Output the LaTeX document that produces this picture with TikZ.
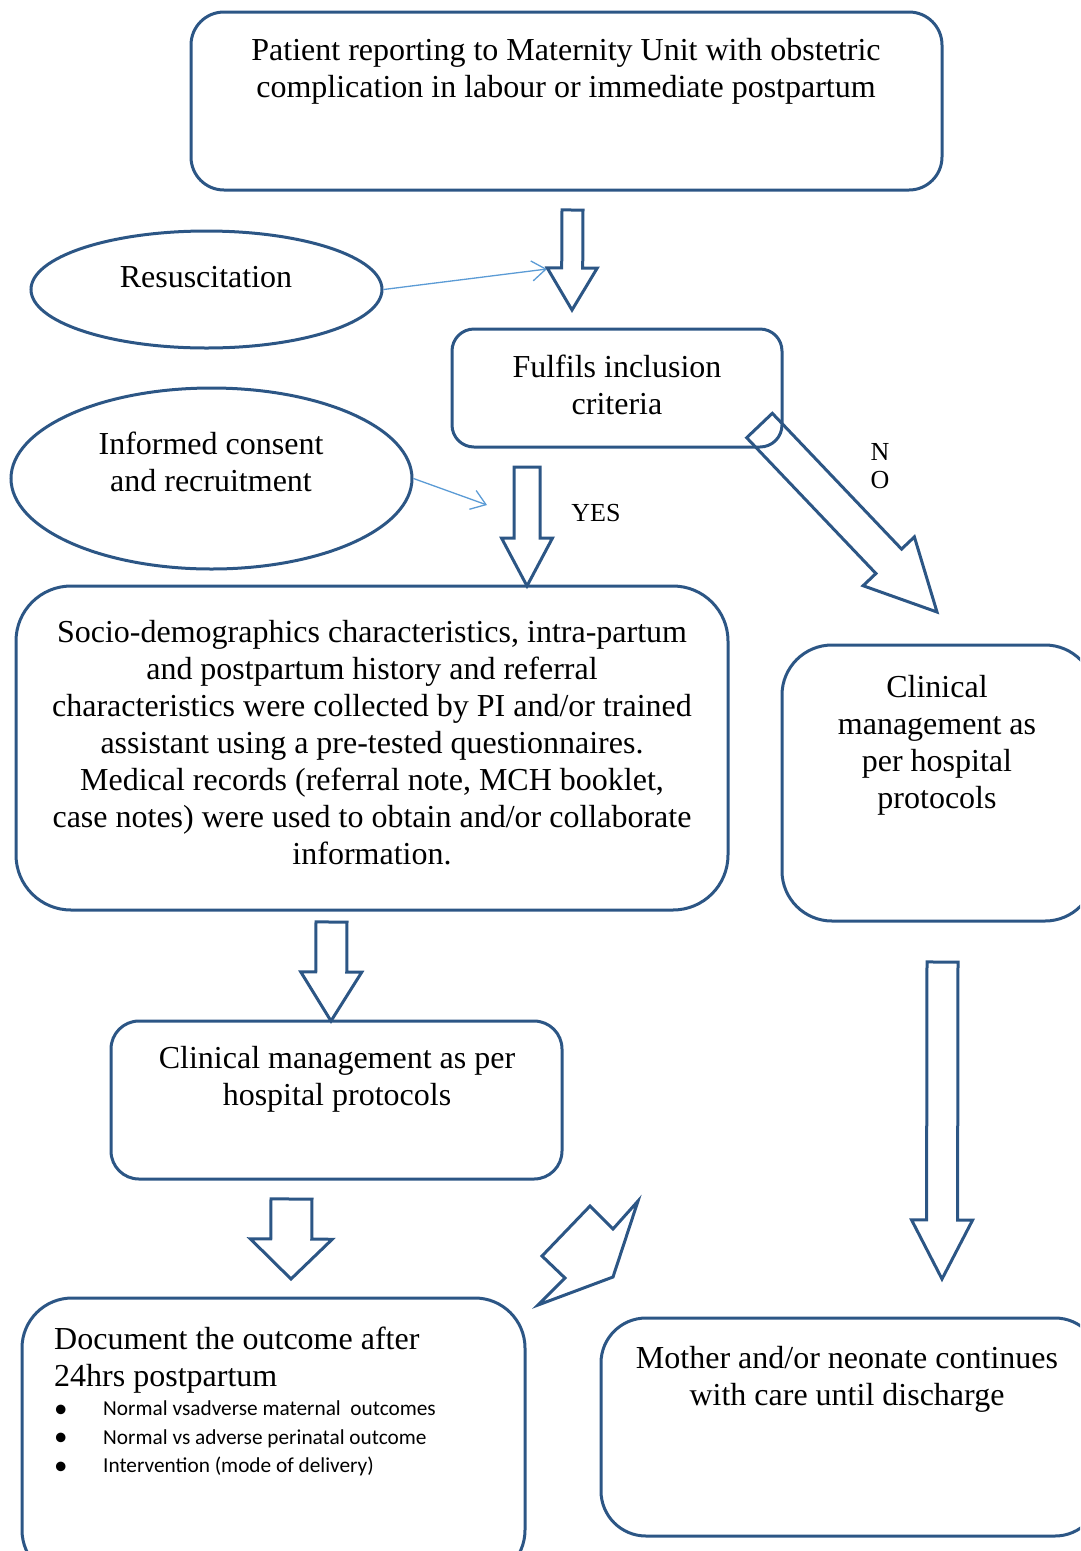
\documentclass[tikz,border=0pt]{standalone}
\usepackage{fontspec}
\setmainfont{Liberation Serif}
\newfontfamily\listfont{Carlito}
\usetikzlibrary{shapes.geometric, arrows.meta, positioning, calc}
\definecolor{boxblue}{HTML}{2C5685}
\definecolor{linkblue}{HTML}{5B9BD5}
\tikzstyle{box} = [rectangle, rounded corners=30pt, draw=boxblue, line width=3pt]
\tikzstyle{oval} = [ellipse, draw=boxblue, line width=3pt]
\tikzstyle{txt} = [inner sep=0pt, align=center, font=\fontsize{32}{37}\selectfont]
\tikzstyle{smalltxt} = [inner sep=0pt, align=center, font=\fontsize{26}{28}\selectfont]
\tikzstyle{thinarrow} = [linkblue, line width=1.3pt, -{Straight Barb[length=14pt, width=20pt]}]
\tikzstyle{blockarr} = [draw=boxblue, line width=3pt, line join=miter]
% list bullet
\newcommand{\listbullet}{\makebox[49pt][l]{\raisebox{-1.5pt}{\fontsize{27}{28}\selectfont\textbullet}}}
% block arrow: tail, tip, half shaft width, half head width, head length
\newcommand{\blockarrow}[5]{%
  \path (#1) coordinate (ba-tail) (#2) coordinate (ba-tip);
  \path ($(ba-tip)!#5!(ba-tail)$) coordinate (ba-head);
  \draw[blockarr] ($(ba-tail)!#3!90:(ba-tip)$) -- ($(ba-head)!#3!90:(ba-tip)$)
    -- ($(ba-head)!#4!90:(ba-tip)$) -- (ba-tip) -- ($(ba-head)!#4!-90:(ba-tip)$)
    -- ($(ba-head)!#3!-90:(ba-tip)$) -- ($(ba-tail)!#3!-90:(ba-tip)$) -- cycle;}

\begin{document}
\begin{tikzpicture}[x=1pt, y=-1pt]
    \useasboundingbox (0,0) rectangle (1080,1551);
    \clip (0,0) rectangle (1080,1551);

    % Boxes and ovals
    \node (patient) [box, minimum width=751pt, minimum height=178pt, rounded corners=33pt] at (566.5,101) {};
    \node (resus) [oval, minimum width=351pt, minimum height=117pt] at (206.5,289.5) {};
    \node (fulfil) [box, minimum width=330pt, minimum height=118pt, rounded corners=22pt] at (617,388) {};
    \node (consent) [oval, minimum width=401pt, minimum height=181pt] at (211.5,478.5) {};
    \node (socio) [box, minimum width=712pt, minimum height=324pt, rounded corners=55pt] at (372,748) {};
    \node (clinright) [box, minimum width=313pt, minimum height=276pt, rounded corners=50pt] at (938.5,783) {};
    \node (clin) [box, minimum width=451pt, minimum height=158pt, rounded corners=28pt] at (336.5,1100) {};
    \node (doc) [box, minimum width=503pt, minimum height=282pt, rounded corners=50pt] at (273.5,1439) {};
    \node (mother) [box, minimum width=499pt, minimum height=218pt, rounded corners=45pt] at (850.5,1427) {};

    % Texts
    \node (patienttxt) [txt] at (566,71.5) {Patient reporting to Maternity Unit with obstetric\\complication in labour or immediate postpartum};
    \node (resustxt) [txt] at (206,277) {Resuscitation};
    \node (fulfiltxt) [txt] at (617,384.5) {Fulfils inclusion\\criteria};
    \node (consenttxt) [txt] at (211,462) {Informed consent\\and recruitment};
    \node (yestxt) [smalltxt] at (596,513) {YES};
    \node (notxt) [smalltxt] at (880,466) {N\\O};
    \node (sociotxt) [txt] at (372,742.5) {Socio-demographics characteristics, intra-partum\\and postpartum history and referral\\characteristics were collected by PI and/or trained\\assistant using a pre-tested questionnaires.\\Medical records (referral note, MCH booklet,\\case notes) were used to obtain and/or collaborate\\information.};
    \node (clinrighttxt) [txt] at (937,745) {Clinical\\management as\\per hospital\\protocols};
    \node (clintxt) [txt] at (337,1079.5) {Clinical management as per\\hospital protocols};
    \node (doctxt) [txt, anchor=west, align=left] at (54,1360.5) {Document the outcome after\\24hrs postpartum};
    \node (doclist) [anchor=west, inner sep=0pt, align=left, font=\listfont\fontsize{21.3}{28.5}\selectfont] at (54,1438.5)
        {\listbullet Normal vsadverse maternal\ \ outcomes\\
         \listbullet Normal vs adverse perinatal outcome\\
         \listbullet Intervention (mode of delivery)};
    \node (mothertxt) [txt] at (847,1379.5) {Mother and/or neonate continues\\with care until discharge};

    % Thin arrows
    \coordinate (resusend) at (547,269);
    \coordinate (consentend) at (487,505);
    \draw [thinarrow] (resus.east) -- (resusend);
    \draw [thinarrow] (consent.east) -- (consentend);

    % Block arrows
    \blockarrow{572.5,210}{572,310}{10.5pt}{25pt}{42pt}
    \blockarrow{527,467}{527,586}{13pt}{25.5pt}{48pt}
    \blockarrow{759.5,425.5}{937,612}{17.7pt}{35.4pt}{70pt}
    \blockarrow{331.5,922}{331,1021}{15.5pt}{30.5pt}{49pt}
    \blockarrow{291.5,1199}{291,1279}{20.5pt}{41pt}{40pt}
    \blockarrow{942.5,962}{942,1279}{15.5pt}{30.5pt}{59pt}
    \draw [blockarr] (590,1206) -- (613,1229) -- (638,1201) -- (613,1277) -- (538,1305) -- (565,1278) -- (542,1256) -- cycle;

\end{tikzpicture}
\end{document}
